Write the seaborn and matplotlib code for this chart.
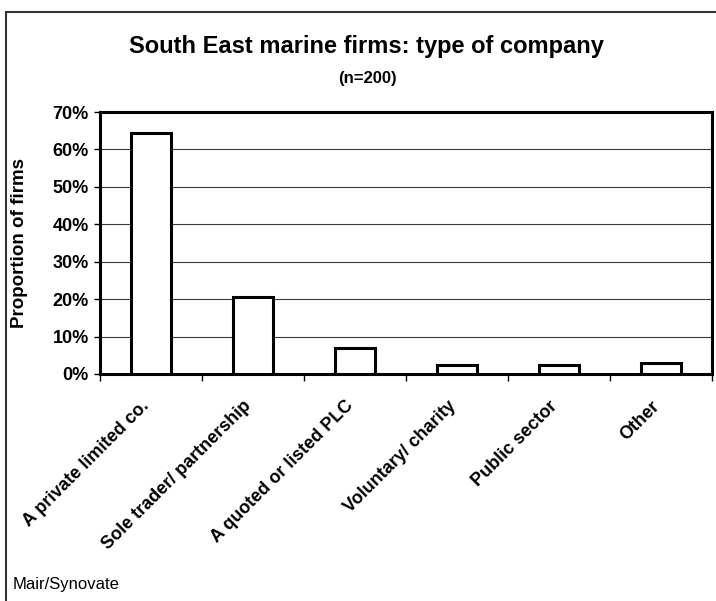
import matplotlib
matplotlib.use("Agg")
import matplotlib.pyplot as plt
import matplotlib.transforms as mtransforms
from matplotlib.lines import Line2D
import seaborn as sns
import pandas as pd
import numpy as np
from matplotlib.ticker import FixedLocator, PercentFormatter

categories = ["A private limited co.", "Sole trader/ partnership", "A quoted or listed PLC",
              "Voluntary/ charity", "Public sector", "Other"]
shares = [64.5, 20.5, 7.0, 2.5, 2.5, 3.0]
y_ticks = [0, 10, 20, 30, 40, 50, 60, 70]

sns.set_style("white")
plt.rcParams["font.family"] = ["Liberation Sans", "DejaVu Sans"]
plt.rcParams.update({"text.color": "black", "axes.labelcolor": "black",
                     "xtick.color": "black", "ytick.color": "black"})

df = pd.DataFrame({"category": categories, "share": shares})

W, H = 716, 601
fig = plt.figure(figsize=(W / 100, H / 100), dpi=100)
ax = fig.add_axes([100 / W, 1 - 374 / H, 612 / W, 262 / H])

sns.barplot(data=df, x="category", y="share", ax=ax, width=0.4,
            color="white", edgecolor="black", linewidth=2.2, zorder=3)

ax.set_ylim(0, 70)
ax.set_xlim(-0.5, len(categories) - 0.5)
ax.yaxis.set_major_locator(FixedLocator(y_ticks))
ax.yaxis.set_major_formatter(PercentFormatter(decimals=0))
ax.grid(axis="y", color="#3a3a3a", linewidth=0.8, zorder=0)
ax.set_axisbelow(True)

for s in ax.spines.values():
    s.set_visible(True)
    s.set_color("black")
    s.set_linewidth(2.2)

ax.tick_params(axis="y", which="major", left=True, length=4, width=1, color="black",
               labelcolor="black", labelsize=13, pad=4)
for lab in ax.get_yticklabels():
    lab.set_fontweight("bold")

# category labels under each bar, tick marks on the category boundaries
ax.set_xticks(range(len(categories)))
ax.set_xticklabels(categories, rotation=45, ha="right", va="top", rotation_mode="anchor",
                   fontsize=13, fontweight="bold", color="black")
ax.tick_params(axis="x", which="major", length=0, pad=17)
shift = mtransforms.ScaledTranslation(-10 / 100, 0, fig.dpi_scale_trans)
for lab in ax.get_xticklabels():
    lab.set_transform(lab.get_transform() + shift)
ax.xaxis.set_minor_locator(FixedLocator(np.arange(-0.5, len(categories), 1.0)))
ax.tick_params(axis="x", which="minor", bottom=True, length=5, width=1, color="black")

ax.set_xlabel("")
ax.set_ylabel("Proportion of firms", fontsize=13.5, fontweight="bold", va="center",
              color="black")
ax.yaxis.set_label_coords((20 - 100) / 612, 0.5)

fig.text(366 / W, 1 - 47 / H, "South East marine firms: type of company",
         ha="center", va="center", fontsize=17, fontweight="bold", color="black")
fig.text(367 / W, 1 - 79 / H, "(n=200)", ha="center", va="center",
         fontsize=12, fontweight="bold", color="black")
fig.text(13 / W, 1 - 585 / H, "Mair/Synovate", ha="left", va="center", fontsize=12,
         color="black")

# chart frame (top and left edges)
fig.add_artist(Line2D([6 / W, 1.0], [1 - 12 / H, 1 - 12 / H], transform=fig.transFigure,
                      color="#333333", linewidth=1.5))
fig.add_artist(Line2D([6 / W, 6 / W], [0.0, 1 - 12 / H], transform=fig.transFigure,
                      color="#333333", linewidth=1.5))

fig.savefig("out.png", dpi=100)
